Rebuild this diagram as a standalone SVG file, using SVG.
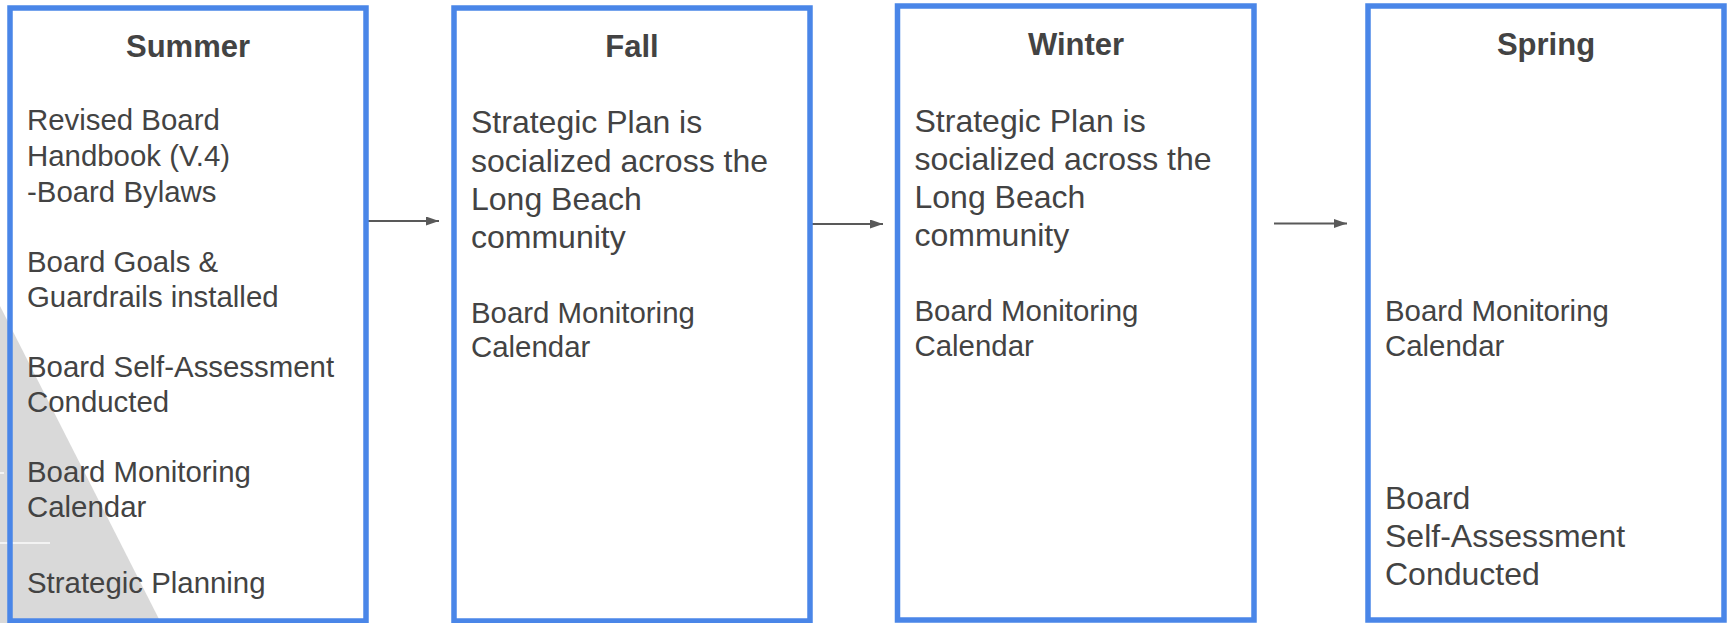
<svg xmlns="http://www.w3.org/2000/svg" width="1729" height="623" viewBox="0 0 1729 623">
<style>
.box{fill:none;stroke:#4a86e8;stroke-width:5.5}
text{font-family:'Liberation Sans',Arial,Helvetica,sans-serif;fill:#434343}
.title{font-weight:bold;font-size:31px;text-anchor:middle}
.t29{font-size:29.4px}
.t32{font-size:32px}
.conn{stroke:#595959;stroke-width:2;fill:none}
</style>
<defs>
<marker id="ah" markerWidth="14" markerHeight="10" refX="13" refY="4.5" orient="auto" markerUnits="userSpaceOnUse">
<path d="M0,0 L13,4.5 L0,9 Z" fill="#595959"/>
</marker>
</defs>
<rect width="1729" height="623" fill="#ffffff"/>
<g id="background">
<polygon points="0,306 161,623 0,623" fill="#d9d9d9"/>
<line x1="0" y1="473" x2="4" y2="473" stroke="#f3f3f3" stroke-width="2"/>
<line x1="0" y1="543" x2="50" y2="543" stroke="#f3f3f3" stroke-width="2"/>
</g>
<g id="connectors">
<line class="conn" x1="367" y1="221" x2="439" y2="221" marker-end="url(#ah)"/>
<line class="conn" x1="811" y1="224" x2="883" y2="224" marker-end="url(#ah)"/>
<line class="conn" x1="1274" y1="223.5" x2="1347" y2="223.5" marker-end="url(#ah)"/>
</g>
<g id="summer">
<rect class="box" x="10" y="8" width="356" height="613"/>
<text class="title" x="188" y="57">Summer</text>
<text class="t29" x="27" y="130">Revised Board</text>
<text class="t29" x="27" y="166">Handbook (V.4)</text>
<text class="t29" x="27" y="202">-Board Bylaws</text>
<text class="t29" x="27" y="272">Board Goals &amp;</text>
<text class="t29" x="27" y="307">Guardrails installed</text>
<text class="t29" x="27" y="377">Board Self-Assessment</text>
<text class="t29" x="27" y="412">Conducted</text>
<text class="t29" x="27" y="482">Board Monitoring</text>
<text class="t29" x="27" y="517">Calendar</text>
<text class="t29" x="27" y="593">Strategic Planning</text>
</g>
<g id="fall">
<rect class="box" x="454" y="8" width="356" height="613"/>
<text class="title" x="632" y="57">Fall</text>
<text class="t32" x="471" y="133">Strategic Plan is</text>
<text class="t32" x="471" y="171.5">socialized across the</text>
<text class="t32" x="471" y="210">Long Beach</text>
<text class="t32" x="471" y="248">community</text>
<text class="t29" x="471" y="322.5">Board Monitoring</text>
<text class="t29" x="471" y="357">Calendar</text>
</g>
<g id="winter">
<rect class="box" x="897.5" y="6" width="356.5" height="614"/>
<text class="title" x="1076" y="55">Winter</text>
<text class="t32" x="914.5" y="131.5">Strategic Plan is</text>
<text class="t32" x="914.5" y="169.5">socialized across the</text>
<text class="t32" x="914.5" y="207.5">Long Beach</text>
<text class="t32" x="914.5" y="246">community</text>
<text class="t29" x="914.5" y="320.5">Board Monitoring</text>
<text class="t29" x="914.5" y="356">Calendar</text>
</g>
<g id="spring">
<rect class="box" x="1368" y="6" width="356" height="614"/>
<text class="title" x="1546" y="55">Spring</text>
<text class="t29" x="1385" y="320.5">Board Monitoring</text>
<text class="t29" x="1385" y="355.5">Calendar</text>
<text class="t32" x="1385" y="508.5">Board</text>
<text class="t32" x="1385" y="547">Self-Assessment</text>
<text class="t32" x="1385" y="585">Conducted</text>
</g>
</svg>
